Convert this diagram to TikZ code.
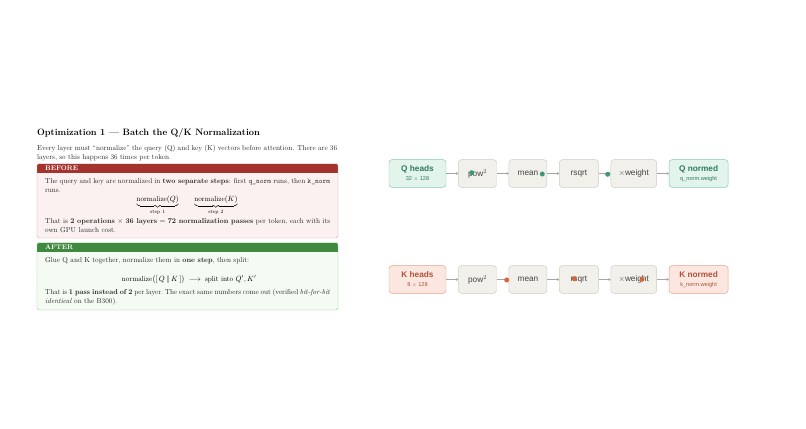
\documentclass[tikz,border=0pt]{standalone}
\usepackage{amsmath}
\usepackage{amssymb}
\usepackage{fontspec}
\newfontfamily\flowfont{Liberation Sans}
\newcommand\subfont{\flowfont\fontsize{7.5}{9}\selectfont}
\newcommand\bodyfont{\fontsize{9.6}{12}\selectfont}
\usetikzlibrary{positioning}
\usetikzlibrary{arrows.meta}

\definecolor{beforered}{HTML}{A4322D}
\definecolor{beforebg}{HTML}{FCF1F1}
\definecolor{beforeline}{HTML}{D99A98}
\definecolor{aftergreen}{HTML}{3F8A3F}
\definecolor{afterbg}{HTML}{F3FBF2}
\definecolor{afterline}{HTML}{8DC48D}
\definecolor{qfill}{HTML}{E2F4EC}
\definecolor{qline}{HTML}{86C9AF}
\definecolor{qtext}{HTML}{2F7A5E}
\definecolor{kfill}{HTML}{FBE7DF}
\definecolor{kline}{HTML}{E3A48C}
\definecolor{ktext}{HTML}{B0513A}
\definecolor{opfill}{HTML}{F2F0EB}
\definecolor{opline}{HTML}{CFCCC5}
\definecolor{optext}{HTML}{444444}
\definecolor{wire}{HTML}{A5A5A5}
\definecolor{qdot}{HTML}{3D9A72}
\definecolor{kdot}{HTML}{D2693B}

\tikzset{
  panel/.style={rounded corners=2.5pt, line width=0.6pt},
  para/.style={anchor=north west, inner sep=0pt, align=justify, text=black!85, font=\bodyfont},
  tag/.style={anchor=base west, inner sep=0pt, text=white, font=\small\bfseries},
  opbox/.style={draw=opline, fill=opfill, rounded corners=4pt, line width=0.6pt,
    minimum height=37pt, inner sep=2pt, text=optext,
    font=\flowfont\fontsize{11}{12.5}\selectfont},
  qbox/.style={opbox, draw=qline, fill=qfill, text=qtext, align=center},
  kbox/.style={opbox, draw=kline, fill=kfill, text=ktext, align=center},
  wirearrow/.style={draw=wire, line width=0.5pt, -{To[length=3pt,width=4pt]}}
}

\begin{document}
\begin{tikzpicture}[x=1.3333pt, y=-1.3333pt]
\def\xL{37}
\def\xR{338}
\def\rowQ{173.5}
\def\rowK{279.5}

\useasboundingbox (0,0) rectangle (806,428);

% left panel
\node[anchor=base west, inner sep=0pt, font=\fontsize{12.3}{14}\selectfont\bfseries] (title) at (\xL,135)
  {Optimization 1 --- Batch the Q/K Normalization};
\node[para, text width=400pt] (intro) at (\xL,145)
  {Every layer must ``normalize'' the query (Q) and key (K) vectors before attention.  There are 36 layers, so this happens 36 times per token.};

% before box
\begin{scope}
  \clip[rounded corners=2.5pt] (\xL,163.5) rectangle (\xR,238);
  \fill[beforebg] (\xL,163.5) rectangle (\xR,238);
  \fill[beforered] (\xL,163.5) rectangle (\xR,172.5);
\end{scope}
\draw[panel, beforeline] (\xL,163.5) rectangle (\xR,238);
\node[tag] (beforetag) at (45,170.3) {BEFORE};
\node[para, text width=380pt] (beforetext) at (45,178.5)
  {The query and key are normalized in \textbf{two separate steps}: first \texttt{q\_norm} runs, then \texttt{k\_norm} runs.};
\node[anchor=base, inner sep=0pt, font=\bodyfont] (beforemath) at (187,201.5)
  {$\underbrace{\mathrm{normalize}(Q)}_{\text{step 1}}\qquad\underbrace{\mathrm{normalize}(K)}_{\text{step 2}}$};
\node[para, text width=380pt] (beforecost) at (45,218.5)
  {That is \textbf{2 operations} $\times$ \textbf{36 layers} $=$ \textbf{72 normalization passes} per token, each with its own GPU launch cost.};

% after box
\begin{scope}
  \clip[rounded corners=2.5pt] (\xL,242.5) rectangle (\xR,310);
  \fill[afterbg] (\xL,242.5) rectangle (\xR,310);
  \fill[aftergreen] (\xL,242.5) rectangle (\xR,251.5);
\end{scope}
\draw[panel, afterline] (\xL,242.5) rectangle (\xR,310);
\node[tag] (aftertag) at (45,249.3) {AFTER};
\node[para, text width=380pt] (aftertext) at (45,257)
  {Glue Q and K together, normalize them in \textbf{one step}, then split:};
\node[anchor=base, inner sep=0pt, font=\bodyfont] (aftermath) at (189,281)
  {$\mathrm{normalize}\big([\,Q \,\|\, K\,]\big) \;\longrightarrow\; \text{split into } Q', K'$};
\node[para, text width=380pt] (aftercost) at (45,289)
  {\frenchspacing That is \textbf{1 pass instead of 2} per layer. The exact same numbers come out (verified \mbox{\textit{bit-for-bit}}\linebreak \textit{identical} on the B300).};

% Q row
\node[qbox, minimum width=76pt] (qheads) at (417.5,\rowQ)
  {\textbf{Q heads}\\[-1pt]{\subfont 32 $\times$ 128}};
\node[opbox, minimum width=50.7pt, right=16pt of qheads] (qpow) {pow$^2$};
\node[opbox, minimum width=50.7pt, right=16pt of qpow] (qmean) {mean};
\node[opbox, minimum width=52pt, right=16pt of qmean] (qrsqrt) {rsqrt};
\node[opbox, minimum width=61pt, right=16pt of qrsqrt] (qweight) {$\times$weight};
\node[qbox, minimum width=78.7pt, right=16pt of qweight] (qnormed)
  {\textbf{Q normed}\\[-1pt]{\subfont q\_norm.weight}};

\draw[wirearrow] (qheads) -- (qpow);
\draw[wirearrow] (qpow) -- (qmean);
\draw[wirearrow] (qmean) -- (qrsqrt);
\draw[wirearrow] (qrsqrt) -- (qweight);
\draw[wirearrow] (qweight) -- (qnormed);

% K row
\node[kbox, minimum width=76pt] (kheads) at (417.5,\rowK)
  {\textbf{K heads}\\[-1pt]{\subfont 8 $\times$ 128}};
\node[opbox, minimum width=50.7pt, right=16pt of kheads] (kpow) {pow$^2$};
\node[opbox, minimum width=50.7pt, right=16pt of kpow] (kmean) {mean};
\node[opbox, minimum width=52pt, right=16pt of kmean] (krsqrt) {rsqrt};
\node[opbox, minimum width=61pt, right=16pt of krsqrt] (kweight) {$\times$weight};
\node[kbox, minimum width=78.7pt, right=16pt of kweight] (knormed)
  {\textbf{K normed}\\[-1pt]{\subfont k\_norm.weight}};

\foreach \a/\b in {kheads/kpow, kpow/kmean, kmean/krsqrt, krsqrt/kweight, kweight/knormed} {
  \draw[wirearrow] (\a) -- (\b);
}

% moving dots
\fill[qdot] (471.7,172.7) circle (2.5);
\fill[qdot] (542.3,174) circle (2.5);
\fill[qdot] (607.7,174.3) circle (2.5);
\fill[kdot] (506.7,280) circle (2.5);
\fill[kdot] (574.3,278.7) circle (2.5);
\fill[kdot] (642,279.3) circle (2.5);
\end{tikzpicture}
\end{document}
